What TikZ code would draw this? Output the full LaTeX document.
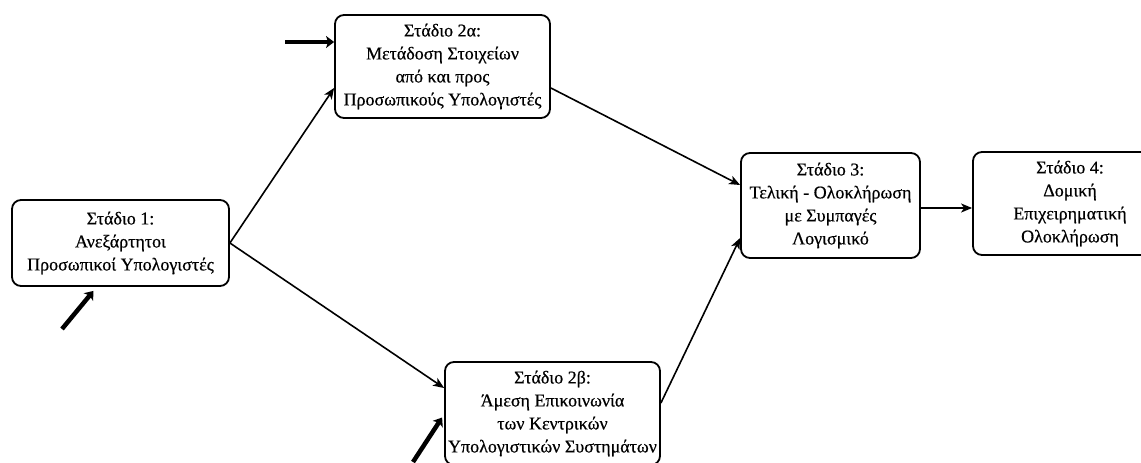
\documentclass[tikz,border=0pt]{standalone}
\usepackage{fontspec}
\setmainfont{Liberation Serif}
\newfontfamily\heavyserif{Liberation Serif}[FakeBold=0.5]
\usetikzlibrary{arrows.meta,calc}
\begin{document}
\begin{tikzpicture}[x=1pt,y=-1pt,
  stagebox/.style={draw=black,line width=1.8pt,rounded corners=9pt,align=center,
    inner sep=0pt,font=\heavyserif\fontsize{18}{23}\selectfont},
  link/.style={line width=1.6pt,-{Stealth[length=11pt,width=9pt,inset=3pt]}},
  bigarrow/.style={line width=4.5pt,-{Stealth[length=8pt,width=12pt,inset=2pt]}}]
\clip (0,0) rectangle (1141,463);
\fill[white] (0,0) rectangle (1141,463);

% the five stages
\node[stagebox,minimum width=217pt,minimum height=86pt] (b1) at (120.5,243)
  {Στάδιο 1:\\Ανεξάρτητοι\\Προσωπικοί Υπολογιστές};
\node[stagebox,minimum width=215pt,minimum height=103pt] (b2a) at (442.5,66.5)
  {Στάδιο 2α:\\Μετάδοση Στοιχείων\\από και προς\\Προσωπικούς Υπολογιστές};
\node[stagebox,minimum width=215pt,minimum height=103pt] (b2b) at (552.5,413.5)
  {Στάδιο 2β:\\Άμεση Επικοινωνία\\των Κεντρικών\\Υπολογιστικών Συστημάτων};
\node[stagebox,minimum width=179pt,minimum height=105pt] (b3) at (830.5,205.5)
  {Στάδιο 3:\\Τελική - Ολοκλήρωση\\με Συμπαγές\\Λογισμικό};
\node[stagebox,minimum width=194pt,minimum height=103pt] (b4) at (1070,203.5)
  {Στάδιο 4:\\Δομική\\Επιχειρηματική\\Ολοκλήρωση};

% transitions between stages
\draw[link] (b1.east) -- ($(b2a.west)+(0,21.5)$);
\draw[link] (b1.east) -- ($(b2b.west)+(0,-25.5)$);
\draw[link] ($(b2a.east)+(0,21.5)$) -- ($(b3.west)+(0,-20.5)$);
\draw[link] ($(b2b.east)+(0,-10.5)$) -- ($(b3.west)+(0,32.5)$);
\coordinate (s34) at ($(b3.east)+(0,2.5)$);
\draw[link] (s34) -- (s34 -| b4.west);

% entry points
\coordinate (e1) at (62,329);
\coordinate (e2) at (285,42);
\coordinate (e3) at (413,462);
\draw[bigarrow] (e1) -- ($(b1.south)+(-27,4)$);
\draw[bigarrow] (e2) -- ($(b2a.west)+(0,-24.5)$);
\draw[bigarrow] (e3) -- ($(b2b.west)+(-2,4)$);
\end{tikzpicture}
\end{document}
